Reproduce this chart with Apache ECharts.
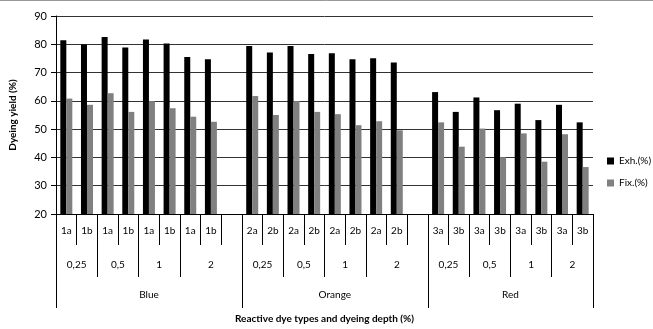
<!DOCTYPE html>
<html><head><meta charset="utf-8">
<script src="https://cdn.jsdelivr.net/npm/echarts@6/dist/echarts.min.js"></script>
<style>html,body{margin:0;padding:0;background:#fff}#c{width:653px;height:329px}</style>
</head><body><div id="c"></div>
<script>
// Level 1 labels (one per slot; '' = spacer slot)
const subLabels = ['1a','1b','1a','1b','1a','1b','1a','1b','',
                   '2a','2b','2a','2b','2a','2b','2a','2b','',
                   '3a','3b','3a','3b','3a','3b','3a','3b'];
// Level 2: dyeing depth for each slot
const depthLevel = ['0,25','0,25','0,5','0,5','1','1','2','2','2',
                    '0,25','0,25','0,5','0,5','1','1','2','2','2',
                    '0,25','0,25','0,5','0,5','1','1','2','2'];
// Level 3: dye type for each slot
const groupLevel = ['Blue','Blue','Blue','Blue','Blue','Blue','Blue','Blue','Blue',
                    'Orange','Orange','Orange','Orange','Orange','Orange','Orange','Orange','Orange',
                    'Red','Red','Red','Red','Red','Red','Red','Red'];
const exhValues = [81.4,79.9,82.6,78.9,81.7,80.3,75.5,74.7,null,
                   79.4,77.1,79.4,76.6,76.8,74.7,75.1,73.6,null,
                   63.1,56.1,61.2,56.7,59.0,53.2,58.6,52.4];
const fixValues = [60.8,58.6,62.7,56.1,59.9,57.4,54.4,52.6,null,
                   61.7,55.0,59.9,56.1,55.3,51.4,52.8,49.6,null,
                   52.4,43.8,50.2,40.1,48.5,38.5,48.2,36.6];
const seriesNames = ['Exh.(%)','Fix.(%)'];
const yTicks = {min:20, max:90, interval:10};

// Build half-slot category axes for the grouped levels
function runs(level){
  const r=[]; let s=0;
  for(let i=1;i<=level.length;i++){
    if(i===level.length || level[i]!==level[s] || (level===depthLevel && groupLevel[i]!==groupLevel[s])){
      r.push({label:level[s], start:s, end:i}); s=i;
    }
  }
  return r;
}
function halfAxis(level){
  const n=level.length*2+1;
  const cats=new Array(n).fill('');
  const ticks=new Set();
  runs(level).forEach(r=>{cats[r.start+r.end]=r.label; ticks.add(2*r.start); ticks.add(2*r.end);});
  return {cats, ticks};
}
const depthAx = halfAxis(depthLevel);
const groupAx = halfAxis(groupLevel);

const font = 'Lato';
const chart = echarts.init(document.getElementById('c'));
chart.setOption({
  animation:false,
  textStyle:{fontFamily:font},
  grid:{left:53, right:60, top:16, bottom:110, containLabel:false},
  legend:{orient:'vertical', left:607, top:156, padding:0, itemWidth:7, itemHeight:7, itemGap:12,
    textStyle:{fontSize:10, color:'#000', fontFamily:font, width:40, overflow:'none'}, icon:'rect', data:seriesNames},
  xAxis:[
    {type:'category', data:subLabels, position:'bottom',
     axisLine:{show:true, lineStyle:{color:'#000', width:1}},
     axisTick:{show:true, interval:0, length:31, lineStyle:{color:'#000'}},
     axisLabel:{interval:0, fontSize:10, color:'#000', margin:12}},
    {type:'category', data:depthAx.cats, boundaryGap:false, position:'bottom',
     axisLine:{show:false},
     axisTick:{show:true, length:63, interval:(i)=>depthAx.ticks.has(i), lineStyle:{color:'#000'}},
     axisLabel:{interval:(i,v)=>v!=='', fontSize:10, color:'#000', margin:46}},
    {type:'category', data:groupAx.cats, boundaryGap:false, position:'bottom',
     axisLine:{show:false},
     axisTick:{show:true, length:94, interval:(i)=>groupAx.ticks.has(i), lineStyle:{color:'#000'}},
     axisLabel:{interval:(i,v)=>v!=='', fontSize:10, color:'#000', margin:76},
     name:'Reactive dye types and dyeing depth (%)', nameLocation:'middle', nameGap:100,
     nameTextStyle:{fontSize:10, fontWeight:'bold', color:'#000', fontFamily:font}}
  ],
  yAxis:{type:'value', min:yTicks.min, max:yTicks.max, interval:yTicks.interval,
    axisLine:{show:true, lineStyle:{color:'#000'}},
    axisTick:{show:true, length:5, lineStyle:{color:'#000'}},
    axisLabel:{fontSize:11, color:'#000', margin:9},
    splitLine:{show:true, lineStyle:{color:'#333', width:1}},
    name:'Dyeing yield (%)', nameLocation:'middle', nameGap:38,
    nameTextStyle:{fontSize:10, fontWeight:'bold', color:'#000', fontFamily:font}},
  series:[
    {name:seriesNames[0], type:'bar', data:exhValues, barWidth:6, barGap:'0%', itemStyle:{color:'#000'}},
    {name:seriesNames[1], type:'bar', data:fixValues, barWidth:6, barGap:'0%', itemStyle:{color:'#808080'}}
  ],
  graphic:[{type:'line', shape:{x1:0,y1:0.5,x2:653,y2:0.5}, style:{stroke:'#999', lineWidth:1}}]
});
</script></body></html>
